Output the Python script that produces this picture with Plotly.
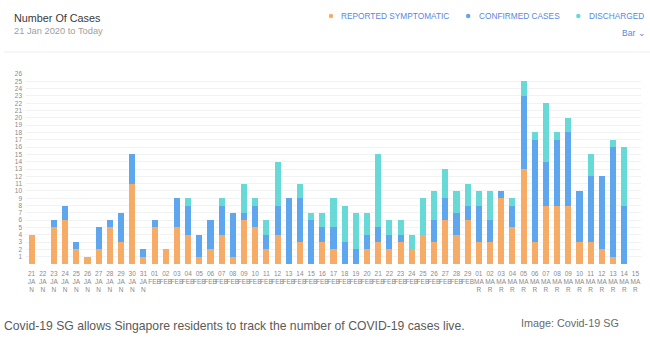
import plotly.graph_objects as go

# ---- data ----
days = ["21","22","23","24","25","26","27","28","29","30","31",
        "01","02","03","04","05","06","07","08","09","10","11","12","13","14","15",
        "16","17","18","19","20","21","22","23","24","25","26","27","28","29",
        "01","02","03","04","05","06","07","08","09","10","11","12","13","14","15"]
months = ["JAN"]*11 + ["FEB"]*29 + ["MAR"]*15

symptomatic = [4,0,5,6,2,1,2,5,3,11,1,
               5,2,5,4,1,2,4,1,6,5,2,4,0,3,0,
               3,2,0,0,2,3,2,3,2,4,3,6,4,6,
               3,3,9,5,13,3,8,8,8,3,3,2,1,0,0]
confirmed = [0,0,1,2,1,0,3,1,4,4,1,
             1,0,4,4,3,4,4,6,1,3,2,4,9,6,6,
             2,3,3,2,2,2,2,1,0,0,3,3,3,2,
             5,3,1,3,10,14,6,9,10,7,9,10,15,8,0]
discharged = [0,0,0,0,0,0,0,0,0,0,0,
              0,0,0,1,0,0,1,0,4,1,2,6,0,2,1,
              2,4,5,5,3,10,2,2,2,5,4,4,3,3,
              2,4,0,1,2,1,8,1,2,0,3,0,1,8,0]

series_names = ["REPORTED SYMPTOMATIC", "CONFIRMED CASES", "DISCHARGED"]
series_colors = ["#f6ac67", "#5ea6ee", "#67d9d6"]
y_ticks = list(range(1, 27))

# wrapped tick labels (JAN -> JA / N, MAR -> MA / R)
def wrap(m):
    return m if m == "FEB" else m[:2] + "<br>" + m[2:]
labels = [d + "<br>" + wrap(m) for d, m in zip(days, months)]

# ---- layout geometry (pixels) ----
W, H = 650, 342
L, R, T, B = 26.4, 9.4, 74, 77.5
pw, ph = W - L - R, H - T - B

def px(x):
    return (x - L) / pw

def py(y):
    return (H - B - y) / ph

fig = go.Figure()
for name, vals, col in zip(series_names, [symptomatic, confirmed, discharged], series_colors):
    fig.add_trace(go.Bar(x=labels, y=vals, name=name, marker=dict(color=col, line=dict(width=0)),
                         hoverinfo="skip"))

fig.update_layout(
    width=W, height=H, barmode="stack", bargap=0.46,
    margin=dict(l=L, r=R, t=T, b=B, pad=0),
    paper_bgcolor="white", plot_bgcolor="white",
    showlegend=False,
    font=dict(family="Liberation Sans, Arial, sans-serif", color="#888"),
)
fig.update_xaxes(type="category", showgrid=False, showline=False, zeroline=False, ticks="",
                 tickangle=0, tickfont=dict(size=6.5, color="#8a8a8a"), ticklabelstandoff=4)
fig.update_yaxes(range=[0, 26], tickvals=y_ticks, ticktext=[str(v) for v in y_ticks],
                 showgrid=True, gridcolor="#f1f2f4", gridwidth=1, zeroline=False, showline=False,
                 ticks="", tickfont=dict(size=6.5, color="#8a8a8a"), ticklabelstandoff=3)

ann = []
# title + subtitle
ann.append(dict(x=px(12), y=py(17.5), text="Number Of Cases", xanchor="left", yanchor="middle",
                font=dict(size=10.8, color="#3a3a3a")))
ann.append(dict(x=px(12), y=py(31), text="21 Jan 2020 to Today", xanchor="left", yanchor="middle",
                font=dict(size=9.3, color="#a0a0a0")))
# legend
leg_marker_x = [331, 468, 578]
leg_text_x = [339, 477, 587]
shapes = []
for mx, tx, name, col in zip(leg_marker_x, leg_text_x, series_names, series_colors):
    shapes.append(dict(type="circle", xref="paper", yref="paper",
                       x0=px(mx - 2.2), x1=px(mx + 2.2), y0=py(15.8 + 2.2), y1=py(15.8 - 2.2),
                       fillcolor=col, line=dict(width=0)))
    ann.append(dict(x=px(tx), y=py(16), text=name, xanchor="left", yanchor="middle",
                    font=dict(size=8.3, color="#5b86df")))
ann.append(dict(x=px(620), y=py(33), text="Bar \u2304", xanchor="left", yanchor="middle",
                font=dict(size=8.5, color="#5b86df")))
# separator
shapes.append(dict(type="line", xref="paper", yref="paper", x0=px(4), x1=px(650), y0=py(52), y1=py(52),
                   line=dict(color="#eeeeee", width=1)))
# caption
ann.append(dict(x=px(2), y=py(326.5), text="Covid-19 SG allows Singapore residents to track the number of COVID-19 cases live.",
                xanchor="left", yanchor="middle", font=dict(size=12.2, color="#5a5a5a")))
ann.append(dict(x=px(519), y=py(324), text="Image: Covid-19 SG", xanchor="left", yanchor="middle",
                font=dict(size=10.8, color="#6a6a6a")))

for a in ann:
    a.update(xref="paper", yref="paper", showarrow=False)
fig.update_layout(annotations=ann, shapes=shapes)

fig.write_html("out.html")
